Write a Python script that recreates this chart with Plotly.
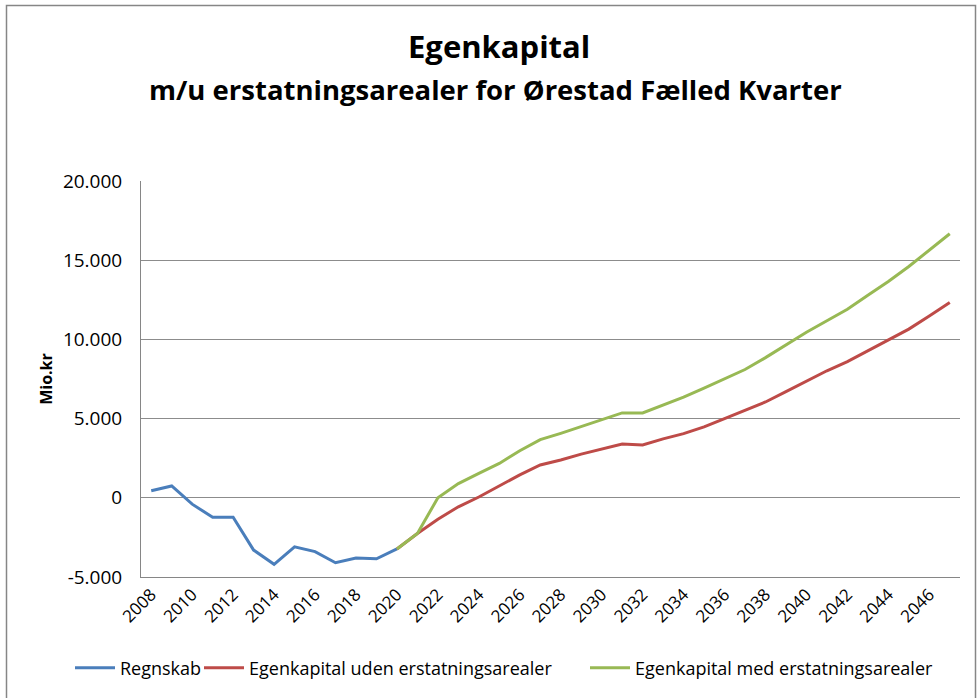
import plotly.graph_objects as go

years_regnskab = [str(y) for y in range(2008, 2021)]
regnskab = [450, 750, -400, -1230, -1230, -3300, -4200, -3100, -3400, -4100, -3800, -3850, -3230]

years_prognose = [str(y) for y in range(2020, 2048)]
uden = [-3230, -2250, -1350, -570, 50, 760, 1450, 2070, 2390, 2760, 3060, 3400, 3330, 3720,
        4050, 4480, 5000, 5530, 6050, 6700, 7380, 8020, 8600, 9280, 9950, 10650, 11480, 12330]
med = [-3230, -2250, 0, 900, 1540, 2170, 2970, 3670, 4070, 4510, 4920, 5360, 5360, 5860,
       6350, 6920, 7510, 8100, 8850, 9650, 10450, 11180, 11900, 12790, 13650, 14600, 15650, 16670]

all_years = [str(y) for y in range(2008, 2048)]
x_tickvals = [str(y) for y in range(2008, 2048, 2)]
y_tickvals = [-5000, 0, 5000, 10000, 15000, 20000]
y_ticktext = ["-5.000", "0", "5.000", "10.000", "15.000", "20.000"]

title_text = "Egenkapital"
subtitle_text = "m/u erstatningsarealer for Ørestad Fælled Kvarter"

FONT = "Open Sans"

fig = go.Figure()
fig.add_trace(go.Scatter(x=years_regnskab, y=regnskab, mode="lines", name="Regnskab",
                         line=dict(color="#4A7EBB", width=3), legend="legend"))
fig.add_trace(go.Scatter(x=years_prognose, y=uden, mode="lines",
                         name="Egenkapital uden erstatningsarealer",
                         line=dict(color="#BE4B48", width=3), legend="legend2"))
fig.add_trace(go.Scatter(x=years_prognose, y=med, mode="lines",
                         name="Egenkapital med erstatningsarealer",
                         line=dict(color="#98B954", width=3), legend="legend3"))

L, R, T, B = 141, 18, 181, 121
W, H = 978, 698
pw, ph = W - L - R, H - T - B

def px(xp):
    return (xp - L) / pw

def py(yp):
    return (H - B - yp) / ph

def leg(x0):
    return dict(
        orientation="h", x=px(x0), xanchor="left", y=py(668), yanchor="middle",
        font=dict(family=FONT, size=18, color="#000000"),
        bgcolor="rgba(0,0,0,0)", itemwidth=40, borderwidth=0,
    )

fig.update_layout(
    width=W, height=H,
    margin=dict(l=L, r=R, t=T, b=B),
    paper_bgcolor="white", plot_bgcolor="white",
    font=dict(family=FONT, color="#000000", size=17),
    separators=",.",
    xaxis=dict(
        type="category", categoryorder="array", categoryarray=all_years,
        range=[-0.5, len(all_years) - 0.5],
        tickmode="array", tickvals=x_tickvals, ticktext=x_tickvals,
        tickangle=-45, ticks="", showgrid=False,
        showline=True, linecolor="#868686", linewidth=1,
        tickfont=dict(family=FONT, size=17, color="#000000"),
        zeroline=False,
    ),
    yaxis=dict(
        range=[-5000, 20000], tickmode="array", tickvals=y_tickvals, ticktext=y_ticktext,
        showgrid=True, gridcolor="#8C8C8C", gridwidth=1,
        showline=True, linecolor="#868686", linewidth=1, ticks="",
        zeroline=False, ticklabelstandoff=14,
        tickfont=dict(family=FONT, size=19, color="#000000"),
        title=dict(text="<b>Mio.kr</b>", font=dict(family=FONT, size=16, color="#000000"),
                   standoff=6),
    ),
    showlegend=True,
    legend=leg(70),
    legend2=leg(199),
    legend3=leg(585),
    annotations=[
        dict(text="<b>" + title_text + "</b>", xref="paper", yref="paper",
             x=px(499), y=py(46), xanchor="center", yanchor="middle", showarrow=False,
             font=dict(family=FONT, size=31, color="#000000")),
        dict(text="<b>" + subtitle_text + "</b>", xref="paper", yref="paper",
             x=px(495), y=py(90), xanchor="center", yanchor="middle", showarrow=False,
             font=dict(family=FONT, size=27.5, color="#000000")),
    ],
)

fig.add_shape(type="rect", xref="paper", yref="paper",
              x0=px(6.5), x1=px(975.5), y0=py(720), y1=py(5.5),
              line=dict(color="#868686", width=1.5), fillcolor="rgba(0,0,0,0)", layer="below")

fig.write_html("out.html", post_script="document.body.style.margin='0';",
               config={"displayModeBar": False})
